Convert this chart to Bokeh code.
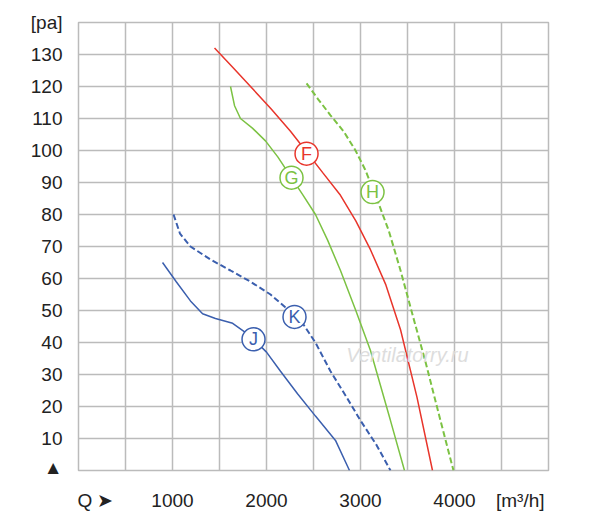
from bokeh.plotting import figure
from bokeh.models import Label, FixedTicker, Range1d
from bokeh.core.properties import value
from bokeh.embed import file_html
from bokeh.resources import INLINE

F_q = [1447, 1640, 1830, 2050, 2255, 2415, 2600, 2787, 2950, 3106, 3270, 3426, 3600, 3766]
F_p = [132, 126, 120, 113, 106, 100, 93, 86, 78, 69, 58, 44, 23, 0]
G_q = [1617, 1660, 1723, 1850, 1989, 2120, 2255, 2390, 2521, 2650, 2787, 2950, 3106, 3319, 3468]
G_p = [120, 114, 110, 107, 103, 98, 92, 86, 80, 72, 62.5, 50, 37.5, 15.6, 0]
H_q = [2426, 2550, 2681, 2820, 2947, 3050, 3160, 3300, 3426, 3560, 3691, 3851, 3989]
H_p = [121, 116, 111, 106, 100, 94, 86, 75, 62.5, 48, 34, 15.6, 0]
K_q = [1011, 1080, 1191, 1400, 1617, 1830, 2043, 2200, 2362, 2520, 2681, 2850, 3000, 3170, 3319]
K_p = [80, 74, 70, 66, 62.5, 59, 55, 51, 47, 40, 31, 23, 15.6, 8, 0]
J_q = [894, 1040, 1191, 1320, 1457, 1640, 1830, 2000, 2149, 2330, 2521, 2734, 2883]
J_p = [65, 59, 53, 49, 47.5, 46, 42, 37, 31, 24, 17, 9.4, 0]

label_names = ["F", "G", "H", "K", "J"]
label_q = [2426, 2266, 3128, 2298, 1862]
label_p = [99, 91.5, 87, 48, 41]

x_ticks = [180, 1000, 2000, 3000, 4000, 4700]
x_tick_labels = ["Q ➤", "1000", "2000", "3000", "4000", "[m³/h]"]
y_ticks = [1, 10, 20, 30, 40, 50, 60, 70, 80, 90, 100, 110, 120, 130, 140]
y_tick_labels = ["▲", "10", "20", "30", "40", "50", "60", "70", "80", "90", "100",
                 "110", "120", "130", "[pa]"]
grid_y = [10, 20, 30, 40, 50, 60, 70, 80, 90, 100, 110, 120, 130]
grid_x = [500, 1000, 1500, 2000, 2500, 3000, 3500, 4000, 4500]

RED, GREEN, BLUE = "#e8352b", "#7cc243", "#3b5fae"
label_colors = [RED, GREEN, GREEN, BLUE, BLUE]
FONT = "Liberation Sans"

p = figure(width=592, height=513, output_backend="svg", toolbar_location=None,
           x_range=Range1d(0, 5000), y_range=Range1d(0, 140),
           min_border_left=78, min_border_right=44, min_border_top=22, min_border_bottom=38)
p.outline_line_color = "#bbbbbb"
p.outline_line_width = 1.5
for ax in (p.xaxis[0], p.yaxis[0]):
    ax.axis_line_color = None
    ax.major_tick_line_color = None
    ax.minor_tick_line_color = None
    ax.major_label_text_font = FONT
    ax.major_label_text_font_size = "19px"
    ax.major_label_text_color = "#222222"
p.xaxis.ticker = FixedTicker(ticks=x_ticks)
p.xaxis.major_label_overrides = {t: s for t, s in zip(x_ticks, x_tick_labels)}
p.yaxis.ticker = FixedTicker(ticks=y_ticks)
p.yaxis.major_label_overrides = {t: s for t, s in zip(y_ticks, y_tick_labels)}
p.xaxis.major_label_standoff = 13
p.yaxis.major_label_standoff = 10
p.xgrid.ticker = FixedTicker(ticks=grid_x)
p.ygrid.ticker = FixedTicker(ticks=grid_y)
for g in (p.xgrid[0], p.ygrid[0]):
    g.grid_line_color = "#bbbbbb"
    g.grid_line_width = 1.5

p.line(F_q, F_p, color=RED, line_width=1.5)
p.line(G_q, G_p, color=GREEN, line_width=1.5)
p.line(H_q, H_p, color=GREEN, line_width=2, line_dash="6 3")
p.line(K_q, K_p, color=BLUE, line_width=2, line_dash="6 3")
p.line(J_q, J_p, color=BLUE, line_width=1.5)

p.scatter(label_q, label_p, size=23, fill_color="white", line_color=label_colors, line_width=1.5)
p.text(label_q, label_p, text=label_names, text_color=label_colors, text_align="center",
       text_baseline="middle", text_font=value(FONT), text_font_size="18px")

p.add_layout(Label(x=3500, y=36, text="Ventilatorry.ru", text_font=FONT, text_font_size="20px",
                   text_font_style="italic", text_color="#dddddd", text_align="center",
                   text_baseline="middle"))

open("out.html", "w").write(file_html(p, INLINE))
